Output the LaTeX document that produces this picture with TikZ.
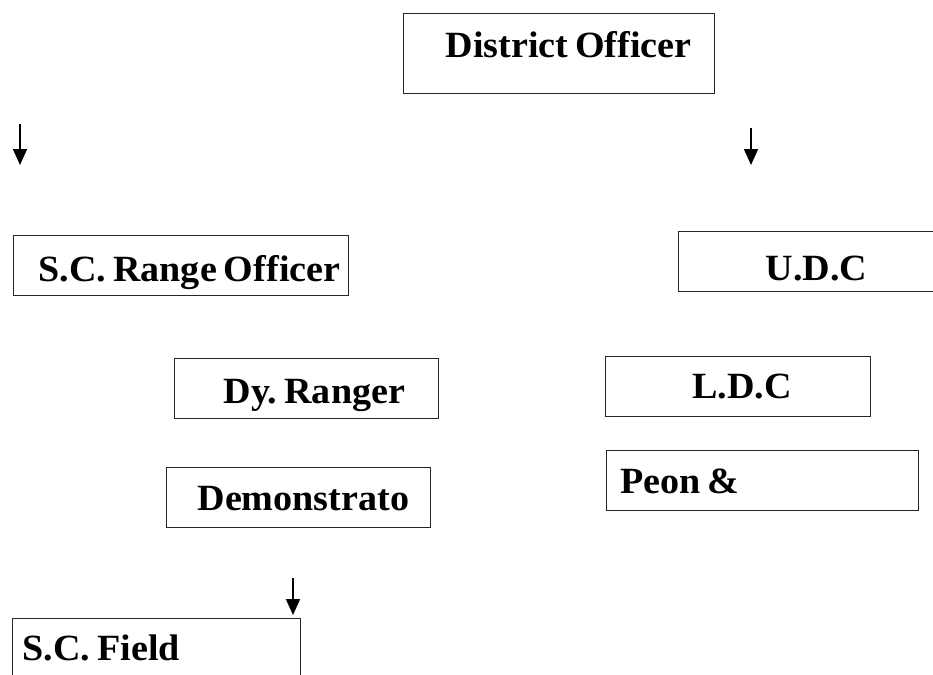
\documentclass[tikz,border=0pt]{standalone}
\usepackage{fontspec}
\setmainfont{Liberation Serif}[FakeStretch=1.03]
\usetikzlibrary{arrows.meta}
\frenchspacing
\newcommand\postfont{\fontsize{37}{44}\selectfont\bfseries}

\begin{document}
\begin{tikzpicture}[x=1pt,y=-1pt,
  post/.style={draw=black!85,line width=1pt,inner sep=0pt,anchor=north west,
    align=left,font=\postfont,execute at begin node={\spaceskip=7pt\relax}},
  down/.style={line width=1.8pt,-{Triangle[width=14pt,length=16pt]}}]
\useasboundingbox (0,0) rectangle (933,674);
\clip (0,0) rectangle (933,674);
%top post
  \node[post,text width=311pt,text height=44pt,text depth=36pt] (dofficer) at (403,13) {\hspace*{42pt}\mbox{District Officer}};
% arrows under it
  \coordinate (lt) at (20,124);
  \coordinate (lb) at (20,165);
  \coordinate (rt) at (751,128);
  \coordinate (rb) at (751,165);
  \draw[down] (lt) -- (lb);
  \draw[down] (rt) -- (rb);
%left side
  \node[post,text width=335pt,text height=46pt,text depth=14pt] (rangeoff) at (13,235) {\hspace*{25pt}\mbox{S.C. Range Officer}};
  \node[post,text width=264pt,text height=45pt,text depth=15pt] (dyranger) at (174,358) {\hspace*{49pt}\mbox{Dy. Ranger}};
  \node[post,text width=264pt,text height=43pt,text depth=17pt] (demo) at (166,467) {\hspace*{31pt}\mbox{Demonstrato}};
  \coordinate (ft) at (293,578);
  \coordinate (fb) at (293,615);
  \draw[down] (ft) -- (fb);
  \node[post,text width=288pt,text height=42pt,text depth=40pt] (field) at (12,618) {\hspace*{10pt}\mbox{S.C. Field}};
%right side
  \node[post,text width=267pt,text height=49pt,text depth=11pt] (udc) at (678,231) {\hspace*{87pt}\mbox{U.D.C}};
  \node[post,text width=265pt,text height=42pt,text depth=18pt] (ldc) at (605,356) {\hspace*{87pt}\mbox{L.D.C}};
  \node[post,text width=312pt,text height=43pt,text depth=17pt] (peon) at (606,450) {\hspace*{14pt}\mbox{Peon \&}};
\end{tikzpicture}
\end{document}
